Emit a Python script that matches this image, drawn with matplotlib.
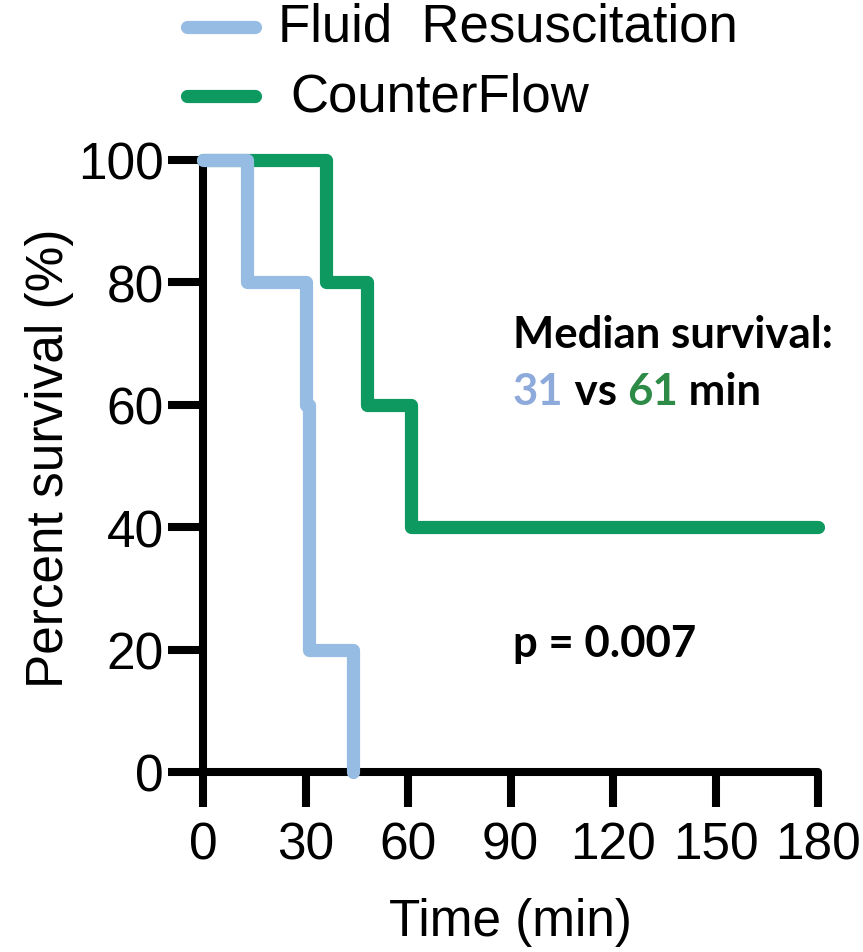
import matplotlib.pyplot as plt
from matplotlib.lines import Line2D

# Data
fluid_t = [0, 13, 30, 31, 44]
fluid_s = [100, 80, 60, 20, 0]
counter_t = [0, 36, 48, 61, 180]
counter_s = [100, 80, 60, 40, 40]

xticks = [0, 30, 60, 90, 120, 150, 180]
yticks = [0, 20, 40, 60, 80, 100]

blue = '#96bce4'
green = '#0e9960'

W, H = 863, 953
fig = plt.figure(figsize=(W / 100, H / 100), dpi=100)
ax = fig.add_axes([203 / W, (H - 773) / H, (818 - 203) / W, (773 - 161) / H])

ax.step(fluid_t, fluid_s, where='post', color=blue, lw=9.5,
        solid_joinstyle='round', solid_capstyle='round', clip_on=False, zorder=3)
ax.step(counter_t, counter_s, where='post', color=green, lw=9.5,
        solid_joinstyle='round', solid_capstyle='round', clip_on=False, zorder=2)

ax.set_xlim(0, 180)
ax.set_ylim(0, 100)
ax.set_xticks(xticks)
ax.set_yticks(yticks)
for s in ['top', 'right']:
    ax.spines[s].set_visible(False)
for s in ['left', 'bottom']:
    ax.spines[s].set_linewidth(5.8)
    ax.spines[s].set_capstyle('round')
ax.tick_params(width=5.8, length=25, labelsize=37, colors='black')
ax.tick_params(axis='x', pad=10)
ax.tick_params(axis='y', pad=3)
ax.set_xlabel('Time (min)', fontsize=37, labelpad=20)
ax.set_ylabel('Percent survival (%)', fontsize=37)
ax.yaxis.set_label_coords(-0.21, 0.515)
for t in ax.get_xticklabels() + ax.get_yticklabels():
    t.set_family('Liberation Sans')
ax.xaxis.label.set_family('Liberation Sans')
ax.yaxis.label.set_family('Liberation Sans')

# legend
for y, c, lab, dx in [(28, blue, 'Fluid  Resuscitation', 278), (97, green, 'CounterFlow', 290)]:
    fig.add_artist(Line2D([187 / W, 255 / W], [(H - y) / H] * 2, color=c, lw=9.5,
                          solid_capstyle='round', transform=fig.transFigure))
    fig.text(dx / W, (H - y) / H, lab, fontsize=38, family='Liberation Sans',
             va='center', ha='left')

# annotations
bold = dict(family='Lato', weight='bold', fontsize=31.5, va='baseline')
fig.text(513 / W, (H - 348) / H, 'Median survival:', **bold)
t1 = fig.text(513 / W, (H - 405) / H, '31', color='#8eaadb', **bold)
fig.canvas.draw()
r = fig.canvas.get_renderer()
x = t1.get_window_extent(r).x1
t2 = fig.text(x / W, (H - 405) / H, ' vs ', color='black', **bold)
x = t2.get_window_extent(r).x1
t3 = fig.text(x / W, (H - 405) / H, '61', color='#2e8b47', **bold)
x = t3.get_window_extent(r).x1
fig.text(x / W, (H - 405) / H, ' min', color='black', **bold)
fig.text(513 / W, (H - 657) / H, 'p = 0.007', **bold)

fig.savefig('out.png', dpi=100)
